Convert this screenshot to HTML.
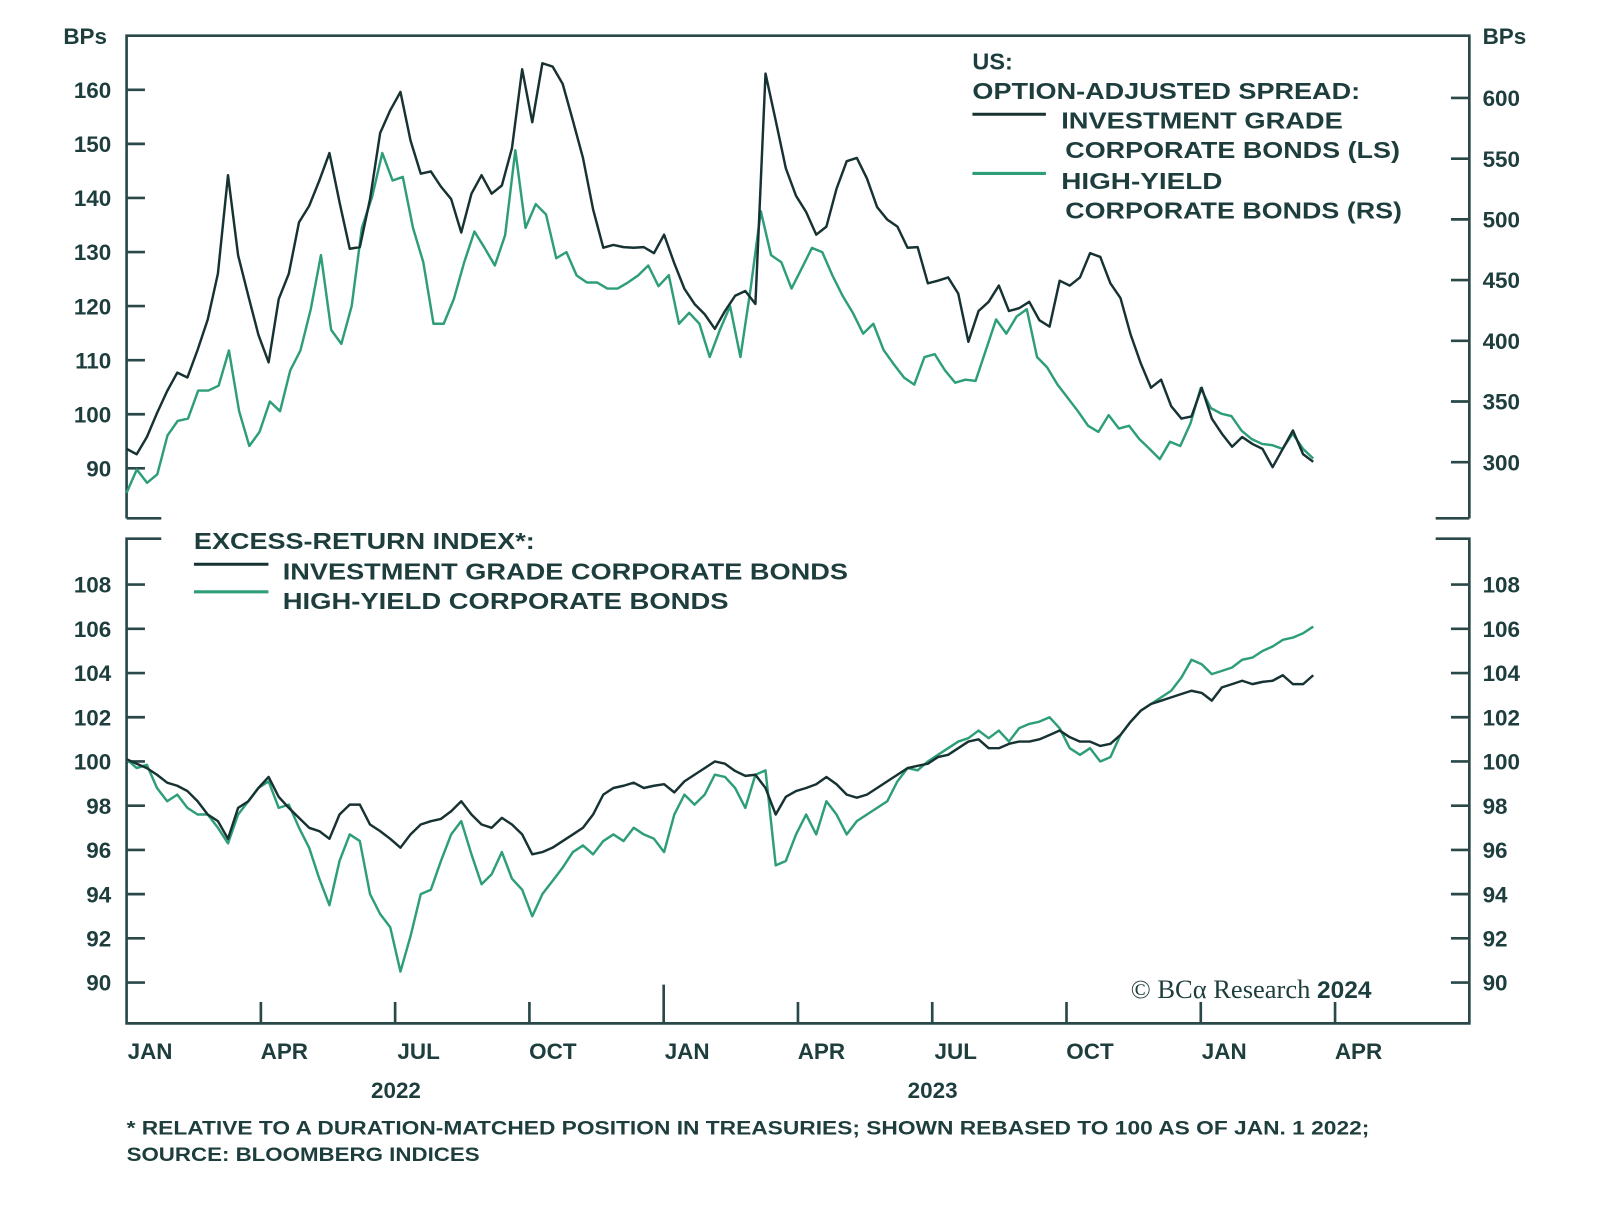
<!DOCTYPE html>
<html><head><meta charset="utf-8">
<style>
html,body{margin:0;padding:0;background:#fff;}
svg{display:block;}
text{font-family:"Liberation Sans",sans-serif;font-weight:bold;fill:#1e3d3d;}
</style></head>
<body>
<svg id="chart" width="1600" height="1205" viewBox="0 0 1568 1181" xmlns="http://www.w3.org/2000/svg">
  <g id="frame" stroke="#2a4848" stroke-width="2.6" fill="none">
    <polyline points="124,508 124,35 1440,35 1440,508"/>
    <line x1="124" y1="508" x2="158" y2="508"/>
    <line x1="1407" y1="508" x2="1440" y2="508"/>
    <polyline points="158,528 124,528 124,1003 1440,1003 1440,528 1407,528"/>
  </g>
  <g id="axes"></g>
  <g id="lines"></g>

  <text x="62" y="43" font-size="22">BPs</text>
  <text x="1453" y="43" font-size="22">BPs</text>

  <g font-size="23">
    <text x="953" y="68">US:</text>
    <text x="953" y="97" textLength="380" lengthAdjust="spacingAndGlyphs">OPTION-ADJUSTED SPREAD:</text>
    <line x1="953" y1="112" x2="1025" y2="112" stroke="#173232" stroke-width="3"/>
    <text x="1040" y="126" textLength="276" lengthAdjust="spacingAndGlyphs">INVESTMENT GRADE</text>
    <text x="1044" y="155" textLength="328" lengthAdjust="spacingAndGlyphs">CORPORATE BONDS (LS)</text>
    <line x1="953" y1="170" x2="1025" y2="170" stroke="#2e9e78" stroke-width="3"/>
    <text x="1040" y="185" textLength="158" lengthAdjust="spacingAndGlyphs">HIGH-YIELD</text>
    <text x="1044" y="214" textLength="330" lengthAdjust="spacingAndGlyphs">CORPORATE BONDS (RS)</text>
  </g>

  <g font-size="23">
    <text x="190" y="538" textLength="334" lengthAdjust="spacingAndGlyphs">EXCESS-RETURN INDEX*:</text>
    <line x1="190" y1="553" x2="263" y2="553" stroke="#173232" stroke-width="3"/>
    <text x="277" y="568" textLength="554" lengthAdjust="spacingAndGlyphs">INVESTMENT GRADE CORPORATE BONDS</text>
    <line x1="190" y1="580" x2="263" y2="580" stroke="#2e9e78" stroke-width="3"/>
    <text x="277" y="597" textLength="437" lengthAdjust="spacingAndGlyphs">HIGH-YIELD CORPORATE BONDS</text>
  </g>

  <text x="1108" y="978" font-size="26" style="font-family:'Liberation Serif',serif;font-weight:normal">© BCα Research <tspan style="font-family:'Liberation Sans',sans-serif;font-weight:bold" font-size="24">2024</tspan></text>

  <text x="388" y="1076" font-size="22" text-anchor="middle">2022</text>
  <text x="914" y="1076" font-size="22" text-anchor="middle">2023</text>
  <text x="124" y="1112" font-size="19" textLength="1218" lengthAdjust="spacingAndGlyphs">* RELATIVE TO A DURATION-MATCHED POSITION IN TREASURIES; SHOWN REBASED TO 100 AS OF JAN. 1 2022;</text>
  <text x="124" y="1138" font-size="19" textLength="346" lengthAdjust="spacingAndGlyphs">SOURCE: BLOOMBERG INDICES</text>
</svg>
<script>
// Weekly data from 2022-01-01 through mid-March 2024
const igSpread = [93.6,92.6,95.8,100.2,104.3,107.7,106.8,111.9,117.5,126,144.2,129.4,121.9,114.7,109.6,121.3,126,135.5,138.5,143.2,148.3,139.2,130.6,130.9,139.8,152,156.2,159.6,150.6,144.5,144.9,142.1,139.8,133.6,140.8,144.2,140.8,142.3,149.2,163.8,154,164.9,164.3,161.1,154.3,147.4,137.9,130.8,131.3,130.9,130.8,130.9,129.8,133.2,127.9,123.2,120.4,118.5,115.8,119.1,121.9,122.8,120.4,163,154.3,145.5,140.4,137.4,133.2,134.7,141.7,146.8,147.4,143.6,138.3,136,134.7,130.8,130.9,124.2,124.7,125.3,122.3,113.4,119.1,120.8,123.8,119.1,119.6,120.8,117.4,116.2,124.7,123.8,125.3,129.8,129.1,124.2,121.5,114.7,109.4,104.9,106.4,101.5,99.2,99.6,104.9,99.2,96.4,94,95.8,94.5,93.6,90.2,93.6,97,92.6,91.2];
const hySpread = [274.8,294,283,290,322,334,336,359,359,363,392,342,313.4,325,350,342,375.6,392,426,470.6,409,397.5,428.6,493,518.5,554.6,532,535,493,464.7,414,414,434.5,464.7,490,476.5,462,487,557,493,512.6,504,468,473,453.8,448,448,443,443,448,453.8,462,445,454,414,423,414,386.6,409,428.6,386.6,443,506.7,470.6,464.7,443,459.7,476.5,473,453.8,437,423,405.9,414,392.4,380.7,369.7,363.9,386.6,389,375.6,365.5,368,367,392.4,417.6,405.9,420,426,386.6,378,363.9,353,342,330,325,338.7,327.7,330,319,311,302.5,316.8,313.4,332,361,344.5,340,338,326,319,315,314,311,323.5,311,303];
const igExcess = [100.1,99.9,99.7,99.4,99.04,98.9,98.66,98.2,97.6,97.3,96.5,97.9,98.2,98.8,99.3,98.4,97.9,97.45,97.0,96.85,96.5,97.6,98.05,98.05,97.15,96.85,96.5,96.1,96.7,97.15,97.3,97.4,97.75,98.2,97.6,97.15,97.0,97.45,97.15,96.7,95.8,95.9,96.1,96.4,96.7,97.0,97.6,98.5,98.8,98.9,99.04,98.8,98.9,98.97,98.6,99.1,99.4,99.7,100.0,99.9,99.57,99.35,99.4,98.8,97.6,98.4,98.66,98.8,98.97,99.3,98.97,98.5,98.36,98.5,98.8,99.1,99.4,99.7,99.8,99.9,100.2,100.3,100.6,100.9,101.0,100.6,100.6,100.8,100.9,100.9,101.0,101.2,101.4,101.1,100.9,100.9,100.7,100.8,101.2,101.8,102.3,102.6,102.75,102.9,103.05,103.2,103.1,102.75,103.35,103.5,103.65,103.5,103.6,103.65,103.9,103.5,103.5,103.9];
const hyExcess = [100.1,99.7,99.85,98.8,98.2,98.5,97.9,97.6,97.6,97.0,96.3,97.6,98.2,98.8,99.1,97.9,98.05,97.0,96.1,94.7,93.5,95.5,96.7,96.4,94.0,93.1,92.5,90.5,92.1,94.0,94.2,95.5,96.7,97.3,95.8,94.45,94.9,95.9,94.7,94.2,93.0,94.0,94.6,95.2,95.9,96.2,95.8,96.4,96.7,96.4,97.0,96.7,96.5,95.9,97.6,98.5,98.05,98.5,99.4,99.3,98.8,97.9,99.4,99.6,95.3,95.5,96.7,97.6,96.7,98.2,97.6,96.7,97.3,97.6,97.9,98.2,99.1,99.7,99.6,100.0,100.3,100.6,100.9,101.05,101.4,101.05,101.4,100.9,101.5,101.7,101.8,102.0,101.5,100.6,100.3,100.6,100.0,100.2,101.2,101.8,102.3,102.6,102.9,103.2,103.8,104.6,104.4,103.95,104.1,104.25,104.6,104.7,105.0,105.2,105.5,105.6,105.8,106.1];
const igTicks = [90,100,110,120,130,140,150,160];
const hyTicks = [300,350,400,450,500,550,600];
const exTicks = [90,92,94,96,98,100,102,104,106,108];
const quarterLabels = ["JAN","APR","JUL","OCT","JAN","APR","JUL","OCT","JAN","APR"];

const NS = "http://www.w3.org/2000/svg";
const X0 = 124, X1 = 1287;
const xI = (i, n) => X0 + i * (X1 - X0) / (n - 1);
const xQ = q => 124 + q * 131.6;
const yIG = v => 459 - (v - 90) * 5.3;
const yHY = v => 453 - (v - 300) * 1.19;
const yEX = v => 963 - (v - 90) * 21.67;

const axes = document.getElementById('axes');
const lines = document.getElementById('lines');
function mk(tag, attrs, parent) {
  const e = document.createElementNS(NS, tag);
  for (const k in attrs) e.setAttribute(k, attrs[k]);
  parent.appendChild(e);
  return e;
}
function tick(x1, y1, x2, y2) {
  const t = mk('line', {x1, y1, x2, y2, stroke: '#2a4848', 'stroke-width': 2.6}, axes);
  
  
}
function label(x, y, s, anchor) {
  const t = mk('text', {x, y, 'font-size': 22, 'text-anchor': anchor}, axes);
  t.textContent = s;
  
  
}
igTicks.forEach(v => { const y = yIG(v); tick(124, y, 142, y); label(109, y + 8, v, 'end'); });
hyTicks.forEach(v => { const y = yHY(v); tick(1422, y, 1440, y); label(1453, y + 8, v, 'start'); });
exTicks.forEach(v => {
  const y = yEX(v);
  tick(124, y, 142, y); label(109, y + 8, v, 'end');
  tick(1422, y, 1440, y); label(1453, y + 8, v, 'start');
});
quarterLabels.forEach((s, q) => {
  const x = xQ(q);
  if (q > 0) tick(x, 1003, x, q === 4 ? 965 : 982);
  label(x + 23, 1038, s, 'middle');
});

function series(data, yf, color, name) {
  const n = data.length;
  const pts = data.map((v, i) => xI(i, n).toFixed(1) + ',' + yf(v).toFixed(1)).join(' ');
  const p = mk('polyline', {points: pts, fill: 'none', stroke: color, 'stroke-width': 2.4, 'stroke-linejoin': 'round'}, lines);
  
  
}
series(hySpread, yHY, '#2e9e78', 'hy-spread-line');
series(igSpread, yIG, '#173232', 'ig-spread-line');
series(hyExcess, yEX, '#2e9e78', 'hy-excess-line');
series(igExcess, yEX, '#173232', 'ig-excess-line');
</script>
</body></html>
